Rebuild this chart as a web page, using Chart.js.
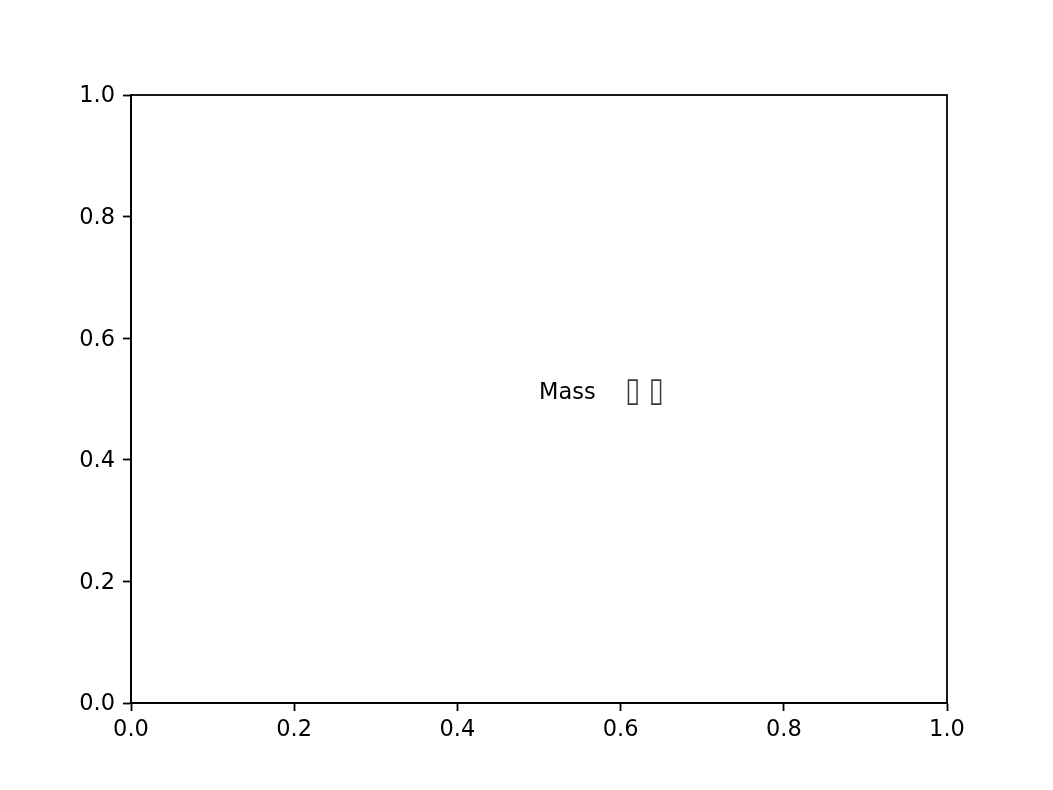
<!DOCTYPE html>
<html>
<head>
<meta charset="utf-8">
<script src="https://cdn.jsdelivr.net/npm/chart.js@4"></script>
<style>
html,body{margin:0;padding:0;background:#fff;}
#wrap{width:1053px;height:790px;}
</style>
</head>
<body>
<div id="wrap"><canvas id="c" width="1053" height="790"></canvas></div>
<script>
const xTicks = [0.0, 0.2, 0.4, 0.6, 0.8, 1.0];
const yTicks = [0.0, 0.2, 0.4, 0.6, 0.8, 1.0];
const textWords = ["Mass"];
const textMissing = ["\u25AF \u25AF"];
const textX = [0.5];
const textY = [0.5];

const FONT = "'DejaVu Sans', sans-serif";
const FS = 22.5;

const textPlugin = {
  id: 'textPlugin',
  afterDraw(chart) {
    const ctx = chart.ctx;
    const xs = chart.scales.x, ys = chart.scales.y;
    const a = chart.chartArea;
    ctx.save();
    ctx.strokeStyle = '#000';
    ctx.lineWidth = 1.8;
    ctx.strokeRect(a.left, a.top, a.right - a.left, a.bottom - a.top);
    ctx.textAlign = 'left';
    ctx.textBaseline = 'alphabetic';
    textWords.forEach((t, i) => {
      const px = xs.getPixelForValue(textX[i]);
      const py = ys.getPixelForValue(textY[i]);
      ctx.fillStyle = '#000';
      ctx.font = FS + 'px ' + FONT;
      ctx.fillText(t, px, py);
      const w = ctx.measureText(t + '    ').width;
      ctx.save();
      ctx.translate(px + w + 1, py + 2);
      ctx.scale(1.0, 1.25);
      ctx.fillStyle = '#3a3a3a';
      ctx.font = '27px ' + FONT;
      ctx.fillText(textMissing[i], 0, 0);
      ctx.restore();
    });
    ctx.restore();
  }
};

new Chart(document.getElementById('c'), {
  type: 'scatter',
  data: { datasets: [{ data: [], showLine: false }] },
  options: {
    responsive: false,
    animation: false,
    devicePixelRatio: 1,
    layout: { padding: { left: 0, top: 95, right: 106, bottom: 0 } },
    plugins: { legend: { display: false }, tooltip: { enabled: false } },
    scales: {
      x: {
        type: 'linear', min: 0, max: 1,
        afterBuildTicks(s) { s.ticks = xTicks.map(v => ({ value: v })); },
        afterFit(s) { s.height = 87; },
        grid: { drawOnChartArea: false, drawTicks: true, tickLength: 8, tickWidth: 1.8, tickColor: '#000', color: '#000' },
        border: { display: true, color: '#000', width: 1.8 },
        ticks: { color: '#000', font: { family: FONT, size: FS }, padding: 6, maxRotation: 0,
          callback: v => v.toFixed(1) }
      },
      y: {
        type: 'linear', min: 0, max: 1,
        afterBuildTicks(s) { s.ticks = yTicks.map(v => ({ value: v })); },
        afterFit(s) { s.width = 131; },
        grid: { drawOnChartArea: false, drawTicks: true, tickLength: 8, tickWidth: 1.8, tickColor: '#000', color: '#000' },
        border: { display: true, color: '#000', width: 1.8 },
        ticks: { color: '#000', font: { family: FONT, size: FS }, padding: 8, labelOffset: 1.5,
          callback: v => v.toFixed(1) }
      }
    }
  },
  plugins: [textPlugin]
});
</script>
</body>
</html>
